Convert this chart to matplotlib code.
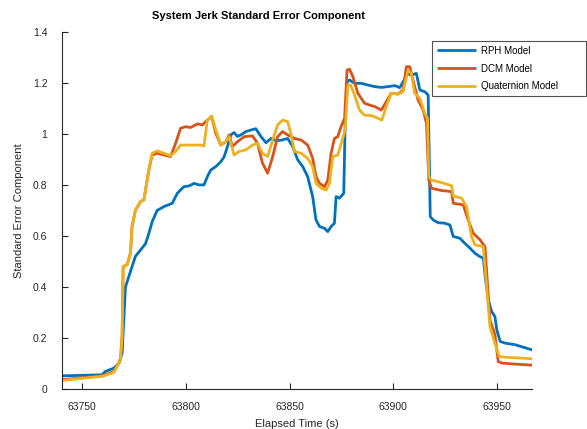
import matplotlib
matplotlib.use("Agg")
import matplotlib.pyplot as plt

plt.rcParams['font.family'] = ['Liberation Sans', 'DejaVu Sans']

# elapsed time (s) and standard error, one pair of lists per attitude model
t_rph = [63740.2, 63759.5, 63761.1, 63765.2, 63767.6, 63769.2, 63770.0, 63770.8,
         63772.4, 63774.0, 63775.6, 63778.1, 63780.5, 63782.1, 63783.7, 63786.1,
         63789.4, 63793.4, 63795.8, 63799.0, 63801.5, 63803.9, 63806.3, 63808.7,
         63810.3, 63811.9, 63814.4, 63816.8, 63818.4, 63820.0, 63821.6, 63823.2,
         63824.8, 63826.5, 63828.9, 63831.3, 63833.7, 63836.1, 63838.6, 63841.0,
         63843.4, 63846.6, 63849.0, 63851.5, 63853.9, 63856.3, 63858.7, 63861.1,
         63862.7, 63864.4, 63866.8, 63868.4, 63870.0, 63871.6, 63872.4, 63874.0,
         63876.1, 63876.8, 63877.7, 63878.9, 63881.3, 63884.5, 63887.8, 63891.0,
         63894.2, 63897.4, 63900.7, 63903.1, 63904.7, 63907.1, 63908.7, 63911.1,
         63912.8, 63915.2, 63916.8, 63917.3, 63917.8, 63919.2, 63921.6, 63924.8,
         63927.3, 63928.9, 63932.1, 63934.5, 63937.0, 63939.4, 63941.8, 63943.4,
         63944.5, 63945.8, 63947.4, 63949.0, 63949.9, 63951.5, 63953.9, 63958.7,
         63966.8]
rph = [0.052, 0.056, 0.069, 0.082, 0.100, 0.140, 0.270, 0.400,
       0.440, 0.480, 0.520, 0.545, 0.570, 0.610, 0.656, 0.700,
       0.715, 0.728, 0.767, 0.793, 0.796, 0.806, 0.800, 0.800,
       0.832, 0.858, 0.872, 0.891, 0.910, 0.950, 0.996, 1.005,
       0.990, 0.996, 1.009, 1.015, 1.020, 0.990, 0.965, 0.982,
       0.973, 0.976, 0.982, 0.950, 0.898, 0.872, 0.832, 0.754,
       0.663, 0.637, 0.630, 0.617, 0.637, 0.650, 0.754, 0.748,
       0.767, 1.054, 1.204, 1.211, 1.198, 1.198, 1.191, 1.185,
       1.182, 1.185, 1.189, 1.181, 1.204, 1.237, 1.230, 1.237,
       1.172, 1.165, 1.152, 0.924, 0.676, 0.663, 0.652, 0.650,
       0.643, 0.598, 0.591, 0.571, 0.552, 0.532, 0.519, 0.513,
       0.428, 0.350, 0.304, 0.284, 0.232, 0.187, 0.180, 0.174,
       0.154]

t_dcm = [63740.2, 63759.5, 63765.2, 63768.4, 63769.2, 63769.7, 63771.6, 63773.2,
         63774.0, 63775.6, 63778.1, 63779.7, 63782.1, 63783.7, 63786.1, 63789.4,
         63792.6, 63795.0, 63797.4, 63799.8, 63802.3, 63805.5, 63807.9, 63810.3,
         63812.4, 63814.4, 63816.8, 63819.2, 63820.8, 63822.4, 63824.8, 63828.1,
         63832.1, 63834.5, 63836.9, 63839.4, 63841.8, 63844.2, 63846.6, 63849.0,
         63852.3, 63855.5, 63858.7, 63861.1, 63862.7, 63864.4, 63866.8, 63868.4,
         63870.0, 63871.6, 63873.2, 63874.8, 63876.5, 63877.7, 63878.9, 63880.5,
         63882.9, 63886.1, 63888.5, 63891.0, 63894.2, 63896.6, 63899.0, 63902.3,
         63904.7, 63906.3, 63907.9, 63909.5, 63911.9, 63914.4, 63916.0, 63917.1,
         63918.4, 63923.2, 63928.1, 63928.9, 63933.7, 63936.1, 63938.5, 63941.8,
         63944.2, 63945.5, 63946.6, 63949.0, 63950.6, 63952.3, 63958.7, 63966.8]
dcm = [0.037, 0.052, 0.069, 0.115, 0.206, 0.480, 0.487, 0.532,
       0.637, 0.700, 0.735, 0.741, 0.859, 0.917, 0.924, 0.917,
       0.911, 0.963, 1.022, 1.028, 1.025, 1.039, 1.035, 1.054,
       1.067, 1.002, 0.956, 0.969, 0.996, 0.950, 0.969, 0.989,
       0.992, 0.963, 0.885, 0.846, 0.911, 0.989, 1.009, 0.996,
       0.982, 0.976, 0.956, 0.904, 0.833, 0.806, 0.793, 0.819,
       0.924, 0.982, 0.989, 1.028, 1.061, 1.250, 1.253, 1.224,
       1.159, 1.120, 1.113, 1.107, 1.093, 1.126, 1.159, 1.156,
       1.172, 1.263, 1.263, 1.211, 1.133, 1.093, 1.041, 0.819,
       0.787, 0.778, 0.774, 0.728, 0.722, 0.663, 0.611, 0.585,
       0.558, 0.402, 0.271, 0.213, 0.108, 0.102, 0.098, 0.094]

t_quat = [63740.2, 63759.5, 63765.2, 63768.4, 63769.2, 63769.7, 63771.6, 63773.2,
          63774.0, 63775.6, 63778.1, 63779.7, 63782.1, 63783.7, 63786.1, 63789.4,
          63792.6, 63795.0, 63797.4, 63800.6, 63803.9, 63807.1, 63808.7, 63810.3,
          63812.4, 63814.4, 63816.8, 63819.2, 63820.8, 63823.2, 63825.6, 63828.9,
          63832.1, 63834.5, 63836.9, 63839.4, 63841.8, 63844.2, 63846.6, 63849.0,
          63850.6, 63852.3, 63855.5, 63858.7, 63861.1, 63862.7, 63865.2, 63867.6,
          63869.2, 63870.8, 63873.2, 63875.6, 63876.8, 63878.1, 63879.4, 63881.3,
          63883.7, 63886.1, 63889.4, 63892.6, 63894.5, 63896.6, 63899.0, 63902.3,
          63904.7, 63907.1, 63908.7, 63910.3, 63912.8, 63915.2, 63916.5, 63917.1,
          63918.4, 63923.2, 63928.1, 63928.9, 63932.9, 63935.3, 63937.7, 63939.4,
          63943.4, 63945.0, 63946.6, 63949.0, 63951.0, 63953.9, 63966.8]
quat = [0.034, 0.050, 0.065, 0.115, 0.206, 0.480, 0.487, 0.532,
        0.637, 0.700, 0.735, 0.741, 0.859, 0.924, 0.933, 0.924,
        0.914, 0.931, 0.956, 0.956, 0.956, 0.956, 0.953, 1.054,
        1.070, 1.015, 0.956, 0.969, 0.989, 0.917, 0.931, 0.937,
        0.956, 0.963, 0.924, 0.911, 0.976, 1.035, 1.054, 1.048,
        1.002, 0.931, 0.924, 0.904, 0.872, 0.806, 0.787, 0.780,
        0.806, 0.911, 0.917, 0.982, 1.015, 1.191, 1.191, 1.152,
        1.093, 1.073, 1.072, 1.061, 1.054, 1.107, 1.159, 1.156,
        1.165, 1.250, 1.237, 1.159, 1.139, 1.080, 1.061, 0.832,
        0.819, 0.809, 0.797, 0.757, 0.748, 0.715, 0.598, 0.565,
        0.558, 0.402, 0.245, 0.180, 0.128, 0.125, 0.119]

labels = ['RPH Model', 'DCM Model', 'Quaternion Model']
colors = ['#0072BD', '#D95319', '#EDB120']

fig = plt.figure(figsize=(5.87, 4.29), dpi=100)
ax = fig.add_axes([0.1056, 0.093, 0.8004, 0.833])

ax.plot(t_rph, rph, color=colors[0], lw=2, label=labels[0])
ax.plot(t_dcm, dcm, color=colors[1], lw=2, label=labels[1])
ax.plot(t_quat, quat, color=colors[2], lw=2, label=labels[2])

ax.set_xlim(63740.2, 63966.8)
ax.set_ylim(0, 1.4)
ax.set_xticks([63750, 63800, 63850, 63900, 63950])
ax.set_yticks([0, 0.2, 0.4, 0.6, 0.8, 1.0, 1.2, 1.4])
ax.set_yticklabels(['0', '0.2', '0.4', '0.6', '0.8', '1', '1.2', '1.4'])

for side in ['top', 'right']:
    ax.spines[side].set_visible(False)
for side in ['left', 'bottom']:
    ax.spines[side].set_color('#262626')
    ax.spines[side].set_linewidth(0.8)
ax.tick_params(direction='in', length=4, width=0.8, colors='#262626',
               labelsize=7.5)
ax.tick_params(axis='x', pad=9)
ax.tick_params(axis='y', pad=10.5)

ax.set_xlabel('Elapsed Time (s)', fontsize=8, color='#262626', labelpad=5)
ax.set_ylabel('Standard Error Component', fontsize=8, color='#262626', labelpad=6)
fig.text(0.441, 0.962, 'System Jerk Standard Error Component', fontsize=8,
         fontweight='bold', ha='center', va='center')

# legend box reaches past the axes, out to the right edge of the figure
leg = ax.legend(loc='upper left',
                bbox_to_anchor=(432 / 587, 1 - 96 / 429, 154 / 587, 55 / 429),
                bbox_transform=fig.transFigure, mode='expand', fontsize=7,
                frameon=True, fancybox=False, edgecolor='#262626',
                handlelength=4.0, handletextpad=0.5, borderpad=0.5,
                labelspacing=0.8, borderaxespad=0)
leg.get_frame().set_linewidth(0.8)
for handle in leg.get_lines():
    handle.set_solid_capstyle('butt')

fig.savefig('out.png', dpi=100)
